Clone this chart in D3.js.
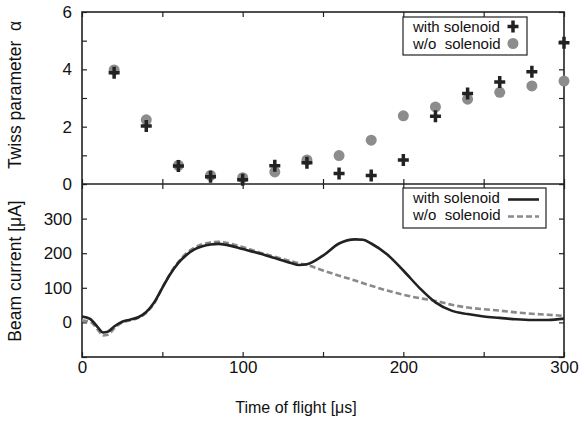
<!DOCTYPE html>
<html>
<head>
<meta charset="utf-8">
<script src="https://cdn.jsdelivr.net/npm/d3@7"></script>
<style>
  body { margin: 0; background: #fff; }
  text { font-family: "Liberation Sans", Arial, Helvetica, sans-serif; fill: #111; }
</style>
</head>
<body>
<svg id="chart" width="581" height="421"></svg>
<script>
// Twiss parameter alpha, sampled every 20 us
const alphaTime = [20, 40, 60, 80, 100, 120, 140, 160, 180, 200, 220, 240, 260, 280, 300];
const alphaWith = [3.88, 2.02, 0.63, 0.25, 0.15, 0.64, 0.74, 0.37, 0.3, 0.84, 2.36, 3.16, 3.56, 3.92, 4.93];
const alphaWithout = [3.98, 2.24, 0.65, 0.3, 0.22, 0.42, 0.84, 0.99, 1.53, 2.38, 2.69, 2.96, 3.2, 3.42, 3.59];

// beam current [uA]
const currentTime = [0, 5, 10, 13, 16, 20, 25, 30, 35, 40, 45, 50, 55, 60, 65, 70, 75, 80, 85, 90,
  100, 110, 120, 130, 135, 140, 150, 160, 170, 175, 180, 190, 200, 210, 220, 230, 240, 250, 260, 270, 280, 290, 300];
const currentWith = [17, 10, -15, -29, -27, -12, 2, 8, 15, 30, 58, 100, 140, 172, 195, 211, 220, 225, 227, 224,
  212, 200, 186, 172, 166, 168, 193, 228, 240, 239, 228, 196, 150, 100, 58, 34, 24, 17, 13, 9, 7, 7, 11];
const currentWithout = [5, 2, -22, -38, -36, -18, 0, 6, 13, 28, 56, 100, 142, 175, 200, 216, 226, 231, 233, 230,
  218, 203, 190, 177, 171, 166, 150, 135, 121, 113, 106, 92, 80, 70, 62, 51, 43, 38, 34, 29, 25, 22, 19];

const xTicks = [0, 50, 100, 150, 200, 250, 300];
const xLabels = [0, 100, 200, 300];
const alphaTicks = [0, 1, 2, 3, 4, 5, 6];
const alphaLabels = [0, 2, 4, 6];
const currentTicks = [-100, 0, 100, 200, 300, 400];
const currentLabels = [0, 100, 200, 300];

const svg = d3.select("#chart");
const pLeft = 82, pRight = 564, pTop = 12, pMid = 184, pBottom = 357;
const ink = "#222";

const x = d3.scaleLinear().domain([0, 300]).range([pLeft, pRight]);
const yA = d3.scaleLinear().domain([0, 6]).range([pMid, pTop]);
const yI = d3.scaleLinear().domain([-100, 400]).range([pBottom, pMid]);

function fmt(labels) {
  return d => labels.includes(d) ? d : "";
}

function styleAxis(g) {
  g.select(".domain").remove();
  g.selectAll(".tick line").attr("stroke", ink).attr("stroke-width", 1.2);
  g.selectAll(".tick text").attr("font-size", 17).attr("fill", "#111")
    .style("font-family", "'Liberation Sans', Arial, sans-serif");
}

// upper panel axes
svg.append("g").attr("transform", `translate(${pLeft},0)`)
  .call(d3.axisLeft(yA).tickValues(alphaTicks).tickSize(-5).tickPadding(10).tickFormat(fmt(alphaLabels)))
  .call(styleAxis);
svg.append("g").attr("transform", `translate(${pRight},0)`)
  .call(d3.axisRight(yA).tickValues(alphaTicks).tickSize(-5).tickFormat(""))
  .call(styleAxis);
svg.append("g").attr("transform", `translate(0,${pTop})`)
  .call(d3.axisTop(x).tickValues(xTicks).tickSize(-5).tickFormat(""))
  .call(styleAxis);
svg.append("g").attr("transform", `translate(0,${pMid})`)
  .call(d3.axisBottom(x).tickValues(xTicks).tickSize(-5).tickFormat(""))
  .call(styleAxis);

// lower panel axes
svg.append("g").attr("transform", `translate(${pLeft},0)`)
  .call(d3.axisLeft(yI).tickValues(currentTicks).tickSize(-5).tickPadding(10).tickFormat(fmt(currentLabels)))
  .call(styleAxis);
svg.append("g").attr("transform", `translate(${pRight},0)`)
  .call(d3.axisRight(yI).tickValues(currentTicks).tickSize(-5).tickFormat(""))
  .call(styleAxis);
svg.append("g").attr("transform", `translate(0,${pMid})`)
  .call(d3.axisTop(x).tickValues(xTicks).tickSize(-5).tickFormat(""))
  .call(styleAxis);
svg.append("g").attr("transform", `translate(0,${pBottom})`)
  .call(d3.axisBottom(x).tickValues(xTicks).tickSize(-5).tickPadding(4).tickFormat(fmt(xLabels)))
  .call(styleAxis);

// frames
svg.append("rect").attr("x", pLeft).attr("y", pTop).attr("width", pRight - pLeft).attr("height", pBottom - pTop)
  .attr("fill", "none").attr("stroke", ink).attr("stroke-width", 1.6);
svg.append("line").attr("x1", pLeft).attr("x2", pRight).attr("y1", pMid).attr("y2", pMid)
  .attr("stroke", ink).attr("stroke-width", 1.6);

// axis titles
svg.append("text").attr("transform", "translate(21,95) rotate(-90)")
  .attr("text-anchor", "middle").attr("font-size", 17.5).style("white-space", "pre")
  .text("Twiss parameter  α");
svg.append("text").attr("transform", "translate(21,271) rotate(-90)")
  .attr("text-anchor", "middle").attr("font-size", 17.5).text("Beam current [μA]");
svg.append("text").attr("x", 296).attr("y", 413)
  .attr("text-anchor", "middle").attr("font-size", 16).text("Time of flight [μs]");

// upper panel markers
const plus = "M-5.5,0H5.5M0,-6V6";
const alphaPts = alphaTime.map((t, i) => ({ t, w: alphaWith[i], wo: alphaWithout[i] }));

svg.append("g").selectAll("circle").data(alphaPts).join("circle")
  .attr("cx", d => x(d.t)).attr("cy", d => yA(d.wo)).attr("r", 5.5)
  .attr("fill", "#8c8c8c");
svg.append("g").selectAll("path").data(alphaPts).join("path")
  .attr("transform", d => `translate(${x(d.t)},${yA(d.w)})`)
  .attr("d", plus).attr("stroke", ink).attr("stroke-width", 3.5).attr("fill", "none");

// lower panel curves
const line = d3.line().x(d => x(d[0])).y(d => yI(d[1])).curve(d3.curveMonotoneX);

svg.append("path").datum(currentTime.map((t, i) => [t, currentWithout[i]]))
  .attr("d", line).attr("fill", "none").attr("stroke", "#8a8a8a")
  .attr("stroke-width", 2.6).attr("stroke-dasharray", "6,3");
svg.append("path").datum(currentTime.map((t, i) => [t, currentWith[i]]))
  .attr("d", line).attr("fill", "none").attr("stroke", ink).attr("stroke-width", 2.6);

// legends
function legend(x0, y0, w, h, draw) {
  const g = svg.append("g");
  g.append("rect").attr("x", x0).attr("y", y0).attr("width", w).attr("height", h)
    .attr("fill", "#fff").attr("stroke", ink).attr("stroke-width", 1.2);
  g.append("text").attr("x", x0 + 10).attr("y", y0 + 15).attr("font-size", 15).text("with solenoid");
  g.append("text").attr("x", x0 + 10).attr("y", y0 + 32).attr("font-size", 15)
    .style("white-space", "pre").text("w/o  solenoid");
  draw(g);
}

legend(403, 17, 124, 38, g => {
  g.append("circle").attr("cx", 513).attr("cy", 43.5).attr("r", 5.5).attr("fill", "#8c8c8c");
  g.append("path").attr("transform", "translate(513,26.5)").attr("d", plus)
    .attr("stroke", ink).attr("stroke-width", 3.5);
});

legend(403, 188, 143, 40, g => {
  g.append("line").attr("x1", 508).attr("x2", 539).attr("y1", 199.5).attr("y2", 199.5)
    .attr("stroke", ink).attr("stroke-width", 2.6);
  g.append("line").attr("x1", 508).attr("x2", 539).attr("y1", 216.5).attr("y2", 216.5)
    .attr("stroke", "#8a8a8a").attr("stroke-width", 2.6).attr("stroke-dasharray", "6,3");
});
</script>
</body>
</html>
